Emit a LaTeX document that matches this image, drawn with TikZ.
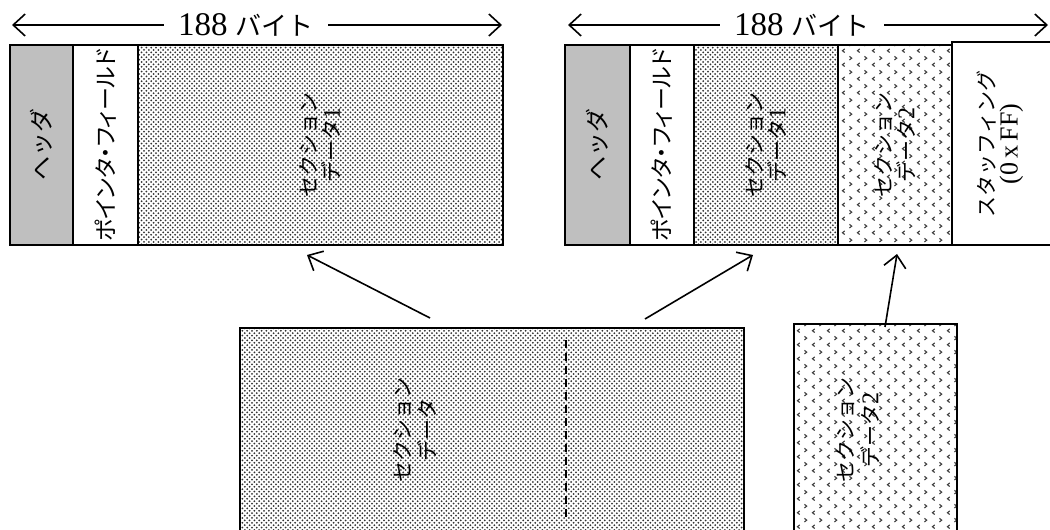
\documentclass[tikz,border=0pt]{standalone}
\usepackage{fontspec}
\setmainfont{Liberation Serif}
\newfontfamily\jpfont{Noto Sans CJK JP}
\newfontfamily\jpnarrow[RawFeature=+palt]{Noto Sans CJK JP}
\usetikzlibrary{arrows.meta,patterns.meta}

\tikzdeclarepattern{
  name=finedots, type=uncolored,
  bottom left={(-0.6pt,-0.6pt)}, top right={(1.8pt,1.8pt)},
  tile size={(2.4pt,2.4pt)},
  code={\fill (0,0) circle (0.5pt); \fill (1.2pt,1.2pt) circle (0.5pt);}
}
\tikzdeclarepattern{
  name=chevrons, type=uncolored,
  bottom left={(0,0)}, top right={(7.5pt,7pt)},
  tile size={(7.5pt,7pt)},
  code={\draw[line width=0.6pt] (2.5pt,0.8pt) -- (1.3pt,1.75pt) -- (2.5pt,2.7pt);
        \draw[line width=0.6pt] (5.0pt,4.3pt) -- (6.2pt,5.25pt) -- (5.0pt,6.2pt);}
}

\begin{document}
\begin{tikzpicture}[x=0.5pt, y=0.5pt,
    box/.style = {draw, line width=1pt},
    hdr/.style = {box, fill=black!25},
    sec/.style = {box, pattern=finedots, pattern color=black!80},
    sectwo/.style = {box, pattern=chevrons, pattern color=black!75},
    vtext/.style = {rotate=90, align=center, inner sep=0pt,
        font=\fontsize{10.5}{11.5}\selectfont\jpfont},
    lbl/.style = {fill=white, inner xsep=7pt, inner ysep=2pt, anchor=base,
        font=\fontsize{16.5}{18}\selectfont},
    dim/.style = {{Straight Barb[length=6pt,width=11pt]}-{Straight Barb[length=6pt,width=11pt]}, line width=0.8pt},
    link/.style = {-{Straight Barb[length=6pt,width=11pt]}, line width=0.8pt}]
    \useasboundingbox (0,0) rectangle (1050,530);
    \clip (0,0) rectangle (1050,530);

    % packet 1
    \draw[hdr] (10,285) rectangle node[vtext, font=\fontsize{12}{12}\selectfont\jpfont] (hdrA) {ヘッダ} (73,485);
    \draw[box] (73,285) rectangle node[vtext, font=\fontsize{11.5}{12}\selectfont\jpnarrow] (ptrA) {ポインタ・フィールド} (138,485);
    \draw[sec] (138,285) rectangle node[vtext] (secA) {セクション\\データ{\rmfamily\fontsize{12}{11.5}\selectfont 1}} (503,485);
    \coordinate (dimAl) at (12,505);
    \coordinate (dimAr) at (502,505);
    \draw[dim] (dimAl) -- (dimAr);
    \node[lbl] (bytesA) at (246,494) {188 {\jpfont\fontsize{13}{18}\selectfont バイト}};

    % packet 2
    \draw[hdr] (565,285) rectangle node[vtext, font=\fontsize{12}{12}\selectfont\jpfont] (hdrB) {ヘッダ} (630,485);
    \draw[box] (630,285) rectangle node[vtext, font=\fontsize{11.5}{12}\selectfont\jpnarrow] (ptrB) {ポインタ・フィールド} (694,485);
    \draw[sec] (694,285) rectangle node[vtext] (secB) {セクション\\データ{\rmfamily\fontsize{12}{11.5}\selectfont 1}} (838,485);
    \draw[sectwo] (838,285) rectangle node[vtext] (secC) {セクション\\データ{\rmfamily\fontsize{12}{11.5}\selectfont 2}} (952,485);
    \draw[box] (952,285) rectangle (1062,488);
    \node[vtext] (stuff) at (1000,386) {スタッフィング\\{\rmfamily\fontsize{13}{11.5}\selectfont (0\,x\,FF)}};
    \coordinate (dimBl) at (568,505);
    \coordinate (dimBr) at (1048,505);
    \draw[dim] (dimBl) -- (dimBr);
    \node[lbl] (bytesB) at (802,494) {188 {\jpfont\fontsize{13}{18}\selectfont バイト}};

    % section data
    \draw[sec] (240,-10) rectangle (744,202);
    \node[vtext, font=\fontsize{10.5}{12.5}\selectfont\jpfont] (secAll) at (415,100) {セクション\\データ};
    \coordinate (cutT) at (566,190);
    \coordinate (cutB) at (566,13);
    \draw[dashed, dash pattern=on 4pt off 2.5pt, line width=0.8pt] (cutT) -- (cutB);
    \draw[sectwo] (794,-10) rectangle (957,206);
    \node[vtext, font=\fontsize{10.5}{12.5}\selectfont\jpfont] (secTwo) at (858,100) {セクション\\データ{\rmfamily\fontsize{12}{12.5}\selectfont 2}};

    % arrows
    \coordinate (fromA) at (430,212);
    \coordinate (toA) at (307,275);
    \coordinate (fromB) at (645,211);
    \coordinate (toB) at (753,275);
    \coordinate (fromC) at (885,203);
    \coordinate (toC) at (897,276);
    \draw[link] (fromA) -- (toA);
    \draw[link] (fromB) -- (toB);
    \draw[link] (fromC) -- (toC);
\end{tikzpicture}
\end{document}
